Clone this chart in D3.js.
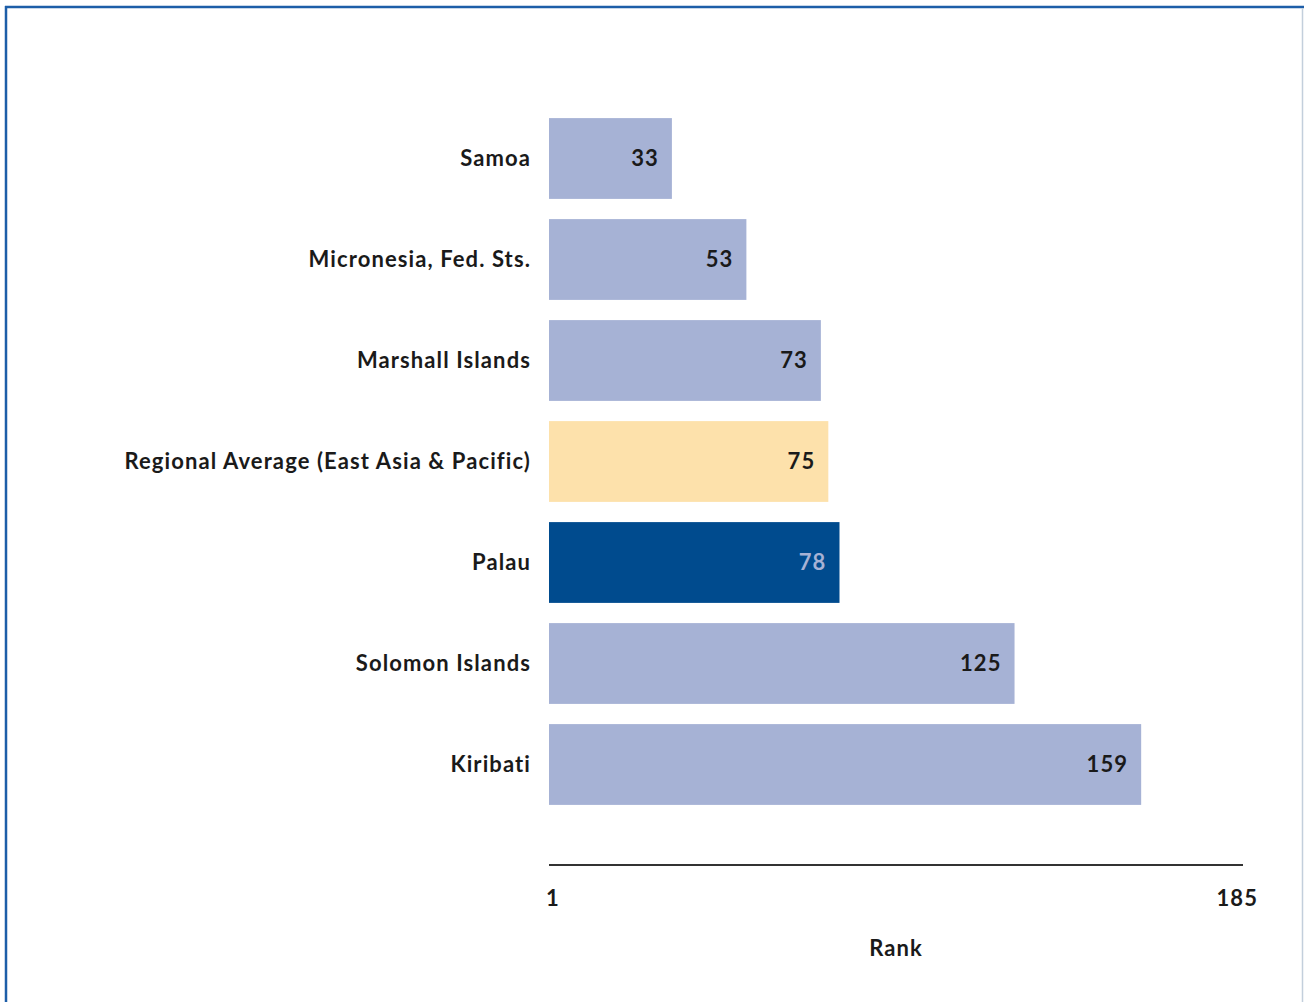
<!DOCTYPE html>
<html>
<head>
<meta charset="utf-8">
<script src="https://cdn.jsdelivr.net/npm/d3@7"></script>
<style>
  body { margin: 0; background: #fff; }
  svg text { font-family: Lato, "Open Sans", sans-serif; font-weight: bold; fill: #1a1a1a; letter-spacing: 1.1px; }
</style>
</head>
<body>
<svg id="chart" width="1304" height="1002"></svg>
<script>
// data
var countries = ['Samoa', 'Micronesia, Fed. Sts.', 'Marshall Islands', 'Regional Average (East Asia & Pacific)', 'Palau', 'Solomon Islands', 'Kiribati']
var ranks = [33, 53, 73, 75, 78, 125, 159]
var kinds = ['other', 'other', 'other', 'average', 'focus', 'other', 'other']
var tickLabels = ['1', '185']
var axisTitle = 'Rank'

var fillByKind = { other: '#a6b2d5', average: '#fde1ab', focus: '#004b8e' }
var labelByKind = { other: '#1a1a1a', average: '#1a1a1a', focus: '#a6b2d5' }

var svg = d3.select('#chart')

// frame
svg.append('line').attr('x1', 5).attr('x2', 1304).attr('y1', 7).attr('y2', 7)
  .attr('stroke', '#1d5ea8').attr('stroke-width', 2.5)
svg.append('line').attr('x1', 6).attr('x2', 6).attr('y1', 6).attr('y2', 1002)
  .attr('stroke', '#1d5ea8').attr('stroke-width', 2.5)
svg.append('line').attr('x1', 1302.5).attr('x2', 1302.5).attr('y1', 8).attr('y2', 1002)
  .attr('stroke', '#c3cfdc').attr('stroke-width', 1.5)

var x = d3.scaleLinear().domain([0, 185]).range([549, 1238])
var y = d3.scaleBand().domain(countries).range([108, 815]).paddingInner(0.2).paddingOuter(0.1)

var rows = countries.map((c, i) => ({ name: c, rank: ranks[i], kind: kinds[i] }))

svg.append('g')
  .selectAll('rect')
  .data(rows)
  .enter()
  .append('rect')
  .attr('x', x(0))
  .attr('y', d => y(d.name))
  .attr('width', d => x(d.rank) - x(0))
  .attr('height', y.bandwidth())
  .attr('fill', d => fillByKind[d.kind])

// value labels inside bars
svg.append('g')
  .selectAll('text')
  .data(rows)
  .enter()
  .append('text')
  .attr('x', d => x(d.rank) - 13)
  .attr('y', d => y(d.name) + y.bandwidth() / 2)
  .attr('dy', '0.35em')
  .attr('text-anchor', 'end')
  .style('font-size', '22px')
  .style('fill', d => labelByKind[d.kind])
  .text(d => d.rank)

// category labels
svg.append('g')
  .selectAll('text')
  .data(rows)
  .enter()
  .append('text')
  .attr('x', 531)
  .attr('y', d => y(d.name) + y.bandwidth() / 2)
  .attr('dy', '0.35em')
  .attr('text-anchor', 'end')
  .style('font-size', '22px')
  .text(d => d.name)

// axis
svg.append('line')
  .attr('x1', x(0)).attr('x2', 1243)
  .attr('y1', 865).attr('y2', 865)
  .attr('stroke', '#333').attr('stroke-width', 2)

svg.append('text')
  .attr('x', 546).attr('y', 906)
  .style('font-size', '22px')
  .text(tickLabels[0])
svg.append('text')
  .attr('x', 1258).attr('y', 906)
  .attr('text-anchor', 'end')
  .style('font-size', '22px')
  .text(tickLabels[1])

svg.append('text')
  .attr('x', 896).attr('y', 956)
  .attr('text-anchor', 'middle')
  .style('font-size', '22px')
  .text(axisTitle)
</script>
</body>
</html>
